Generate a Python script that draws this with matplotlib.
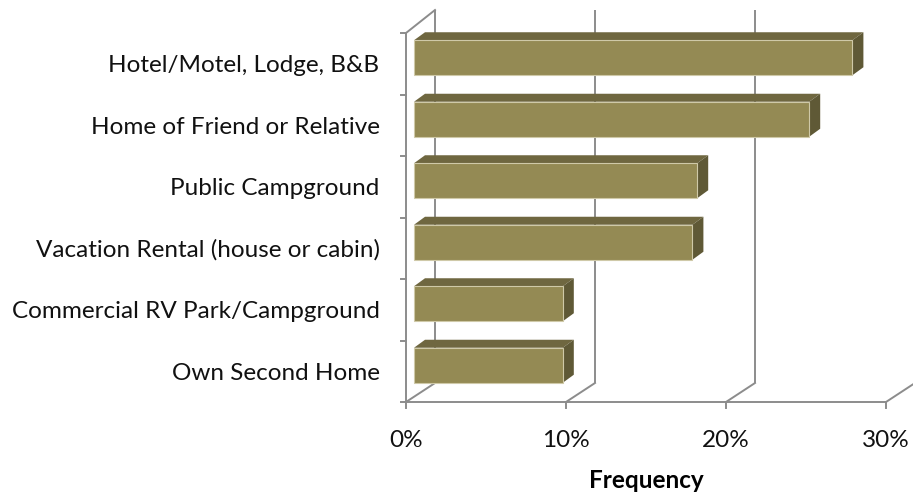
import numpy as np
import matplotlib
matplotlib.use("Agg")
import matplotlib.pyplot as plt
from matplotlib.patches import Polygon

# data (top of chart first)
categories = ["Hotel/Motel, Lodge, B&B", "Home of Friend or Relative",
              "Public Campground", "Vacation Rental (house or cabin)",
              "Commercial RV Park/Campground", "Own Second Home"]
values = [27.4, 24.7, 17.7, 17.4, 9.3, 9.3]  # percent
x_ticks = [0, 10, 20, 30]
x_ticklabels = ["0%", "10%", "20%", "30%"]

FACE = "#948a54"
TOP = "#6f6740"
SIDE = "#5f5936"
EDGE = "#cfc9a8"
GRID = "#8c8c8c"

plt.rcParams["font.family"] = ["Lato", "DejaVu Sans"]
FS = 17.5

W, H = 913, 496
fig = plt.figure(figsize=(W / 100, H / 100), dpi=100)
# front plane: x 0..30 -> px 406..886, y 0..6 -> px 402..33
ax = fig.add_axes([406 / W, (H - 402) / H, 480 / W, 369 / H])
ax.set_xlim(0, 30)
ax.set_ylim(0, 6)
for s in ax.spines.values():
    s.set_visible(False)

px_x = 30 / 480.0      # data units per pixel, x
px_y = 6 / 369.0       # data units per pixel, y

# back wall
bdx = 29 * px_x
b_bot = 19 * px_y
b_top = 6 + 23 * px_y
lw = 1.4
for x in [0, 10, 20]:
    ax.plot([x + bdx, x + bdx], [b_bot, b_top], color=GRID, lw=lw, clip_on=False,
            solid_capstyle="butt")
for x in x_ticks:
    ax.plot([x, x + bdx], [0, b_bot], color=GRID, lw=lw, clip_on=False)
ax.plot([0, bdx], [6, b_top], color=GRID, lw=lw, clip_on=False)
# front axes
ax.plot([0, 0], [0, 6], color=GRID, lw=lw, clip_on=False)
ax.plot([0, 30], [0, 0], color=GRID, lw=lw, clip_on=False)
for y in range(7):
    ax.plot([-5 * px_x, 0], [y, y], color=GRID, lw=lw, clip_on=False)
for x in x_ticks:
    ax.plot([x, x], [0, -6 * px_y], color=GRID, lw=lw, clip_on=False)

# bars (3D look)
fdx, fdy = 8 * px_x, 6 * px_y      # front face depth offset
tdx, tdy = 11 * px_x, 8 * px_y     # bar depth
half_h = 17.5 * px_y
n = len(categories)
for i, (cat, v) in enumerate(zip(categories, values)):
    yc = n - 1 - i + 0.5 + fdy
    x0, x1 = fdx, v + fdx
    y0, y1 = yc - half_h, yc + half_h
    top = Polygon([(x0, y1), (x1, y1), (x1 + tdx, y1 + tdy), (x0 + tdx, y1 + tdy)],
                  closed=True, facecolor=TOP, edgecolor="none", clip_on=False, zorder=3)
    side = Polygon([(x1, y0), (x1 + tdx, y0 + tdy), (x1 + tdx, y1 + tdy), (x1, y1)],
                   closed=True, facecolor=SIDE, edgecolor="none", clip_on=False, zorder=3)
    front = Polygon([(x0, y0), (x1, y0), (x1, y1), (x0, y1)], closed=True,
                    facecolor=FACE, edgecolor=EDGE, lw=0.8, clip_on=False, zorder=4)
    for p in (top, side, front):
        ax.add_patch(p)

ax.set_yticks([n - 1 - i + 0.5 for i in range(n)])
ax.set_yticklabels(categories, fontsize=FS, color="#111111")
ax.set_xticks(x_ticks)
ax.set_xticklabels(x_ticklabels, fontsize=FS, color="#111111")
ax.tick_params(axis="y", length=0, pad=19)
ax.tick_params(axis="x", length=0, pad=20)
ax.set_xlabel("Frequency", fontsize=FS, fontweight="bold", labelpad=13)

fig.savefig("out.png", dpi=100)
